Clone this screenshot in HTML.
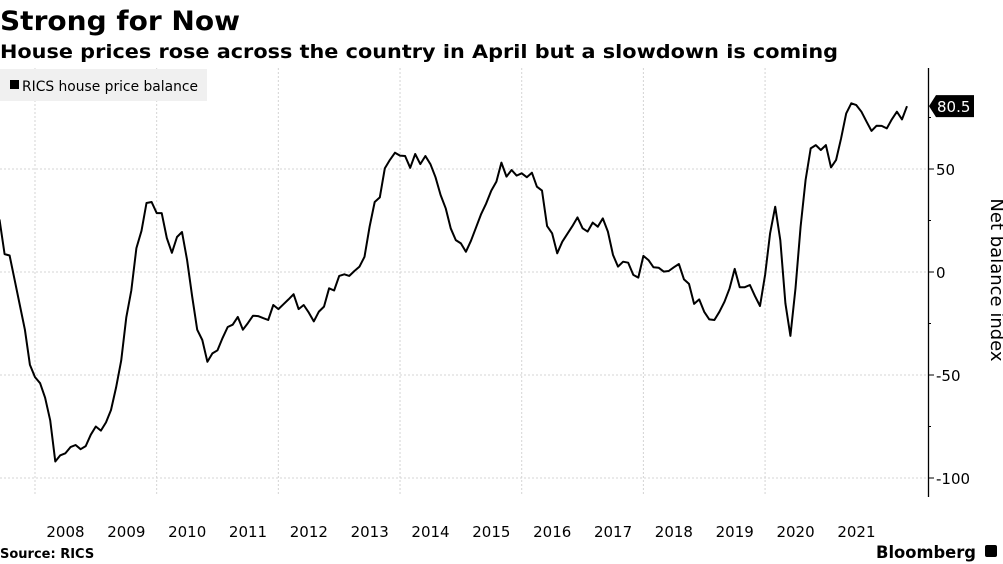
<!DOCTYPE html>
<html><head><meta charset="utf-8"><style>
body{margin:0;background:#fff;}
svg{display:block;font-family:"DejaVu Sans","Liberation Sans",sans-serif;}
</style></head><body>
<svg id="chart" width="1003" height="564" viewBox="0 0 1003 564">
<text x="0" y="30" font-size="27" font-weight="bold" textLength="240" lengthAdjust="spacingAndGlyphs">Strong for Now</text>
<text x="0" y="58" font-size="19" font-weight="bold" textLength="838" lengthAdjust="spacingAndGlyphs">House prices rose across the country in April but a slowdown is coming</text>
<g id="grid"></g>
<rect x="0" y="69" width="207" height="32" fill="#f0f0f0"/>
<rect x="10" y="80" width="9" height="9" fill="#000"/>
<text x="22" y="91" font-size="14" textLength="176" lengthAdjust="spacingAndGlyphs">RICS house price balance</text>
<g id="axis"></g>
<g id="xaxis"></g>
<path id="line" fill="none" stroke="#000" stroke-width="2" stroke-linejoin="round"/>
<g id="lastlabel"></g>
<text x="991" y="280" font-size="18" text-anchor="middle" transform="rotate(90 991 280)">Net balance index</text>
<text x="0" y="558" font-size="13" font-weight="bold">Source: RICS</text>
<text x="876" y="558" font-size="17" font-weight="bold" textLength="100" lengthAdjust="spacingAndGlyphs">Bloomberg</text>
<rect x="985" y="545" width="12" height="12" rx="2" fill="#000"/>
</svg>
<script>
const values = [25.5,8.7,8,-4,-16,-28,-45,-51,-54,-61,-72,-92,-89,-88,-85,-84,-86,-84.5,-79,-75,-77,-73,-67,-56,-43,-22,-9,11.6,20,33.5,34,28.6,28.6,16.5,9.3,17,19.4,5.8,-12,-28,-33,-43.6,-39.5,-38,-32,-26.7,-25.6,-21.8,-28,-24.8,-21.2,-21.4,-22.4,-23.3,-16,-18,-15.7,-13.3,-10.8,-18,-16,-19.7,-24,-19.2,-16.8,-7.9,-9,-1.9,-1.1,-1.9,0.5,2.6,7.4,22,34,36.2,50.3,54.4,57.9,56.5,56.3,50.6,57.3,52.4,56.3,52.3,46,37.4,30.9,21.2,15.5,13.9,9.8,15.2,21.7,28.2,33.3,39.5,43.9,53.1,46.3,49.5,46.8,47.9,46,48.2,41.4,39.5,22.3,18.8,9.1,14.7,18.5,22.3,26.5,21.2,19.6,24,22,26,19.6,8.3,2.6,5,4.5,-1.4,-2.7,7.8,5.8,2.3,2.1,0.2,0.5,2.3,3.9,-3.6,-5.8,-15.5,-13.3,-19.3,-23,-23.3,-19.3,-14.4,-7.9,1.5,-7.4,-7.4,-6.3,-11.6,-16.5,-1.4,18.8,31.7,15.5,-15.2,-31,-7.9,22,44.7,60,61.6,59.2,61.6,50.8,54.4,64.9,77,81.9,81,77.8,73,68.5,71,70.9,69.7,74.1,77.8,74.1,80.5];
const yTicks = [50,0,-50,-100];
const yMinor = [75,25,-25,-75];
const years = [2008,2009,2010,2011,2012,2013,2014,2015,2016,2017,2018,2019,2020,2021];
const startYear = 2007, startMonth = 5;
const lastLabel = "80.5";

const NS="http://www.w3.org/2000/svg";
function y(v){return 272-2.06*v;}
function xm(i){return -0.5+i*5.07;}
function xYear(yr){return xm((yr-startYear)*12-startMonth);}
function mk(tag,attrs,parent){const e=document.createElementNS(NS,tag);for(const k in attrs)e.setAttribute(k,attrs[k]);parent.appendChild(e);return e;}
const grid=document.getElementById('grid'),axis=document.getElementById('axis'),xaxis=document.getElementById('xaxis');
yTicks.forEach(v=>{
  const l=mk('line',{x1:0,x2:928,y1:y(v),y2:y(v),stroke:'#d4d4d4','stroke-width':1,'stroke-dasharray':'2,2'},grid);
  
  
  const t=mk('line',{x1:928,x2:934,y1:y(v),y2:y(v),stroke:'#000','stroke-width':1},axis);
  
  
  const tx=mk('text',{x:936,y:y(v)+6,'font-size':15},axis);
  tx.textContent=String(v);
  
  
});
yMinor.forEach(v=>{
  const t=mk('line',{x1:928,x2:931,y1:y(v),y2:y(v),stroke:'#000','stroke-width':1},axis);
  
  
});
mk('line',{x1:928.5,x2:928.5,y1:68,y2:497,stroke:'#000','stroke-width':1.3},axis);
years.forEach(yr=>{
  if(yr%2===0){
    const g=mk('line',{x1:xYear(yr),x2:xYear(yr),y1:68,y2:495,stroke:'#d4d4d4','stroke-width':1,'stroke-dasharray':'2,2'},grid);
    
    
  }
  const t=mk('text',{x:xYear(yr)+30.5,y:537,'font-size':15,'text-anchor':'middle'},xaxis);
  t.textContent=String(yr);
  
  
});
let d='';values.forEach((v,i)=>{d+=(i?'L':'M')+xm(i).toFixed(1)+','+y(v).toFixed(1);});
document.getElementById('line').setAttribute('d',d);
const ll=document.getElementById('lastlabel');const ly=y(values[values.length-1]);
mk('path',{d:`M929,${ly} L936,${ly-11} L974,${ly-11} L974,${ly+11} L936,${ly+11} Z`,fill:'#000'},ll);
const lt=mk('text',{x:937,y:ly+6,'font-size':15,fill:'#fff'},ll);lt.textContent=lastLabel;
</script>
</body></html>
